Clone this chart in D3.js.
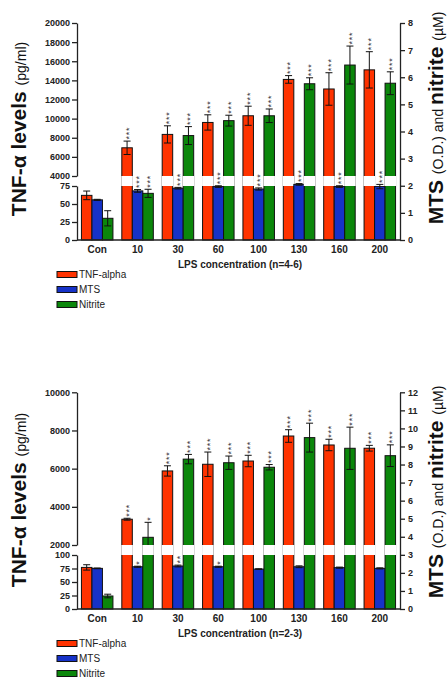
<!DOCTYPE html>
<html><head><meta charset="utf-8">
<script src="https://cdn.jsdelivr.net/npm/d3@7"></script>
<style>
html,body{margin:0;padding:0;background:#fff;}
text{font-family:Arial,"Liberation Sans",sans-serif;}
</style></head>
<body><svg id="chart" width="448" height="685"></svg>
<script>
// ---------- data ----------
const categories = ["Con","10","30","60","100","130","160","200"];
const seriesNames = ["TNF-alpha","MTS","Nitrite"];

// Panel 1 (n=4-6)
const p1_tnf        = [62, 6950, 8350, 9600, 10300, 14100, 13100, 15100];
const p1_tnfErr     = [6, 700, 900, 800, 1000, 400, 1700, 1900];
const p1_mts        = [1.48, 1.81, 1.91, 1.97, 1.88, 2.05, 1.97, 1.97];
const p1_mtsErr     = [0.02, 0.05, 0.03, 0.03, 0.04, 0.03, 0.03, 0.08];
const p1_nitrite    = [0.80, 1.72, 3.85, 4.40, 4.58, 5.76, 6.45, 5.78];
const p1_nitriteErr = [0.28, 0.15, 0.33, 0.20, 0.25, 0.22, 0.70, 0.42];
const p1_tnfSig     = ["","***","***","***","***","***","***","***"];
const p1_mtsSig     = ["","***","***","***","***","***","***","***"];
const p1_nitSig     = ["","***","***","***","***","***","***","***"];
const p1_lowTicks   = [0, 25, 50, 75];
const p1_upTicks    = [4000, 6000, 8000, 10000, 12000, 14000, 16000, 18000, 20000];
const p1_rightTicks = [0, 1, 2, 3, 4, 5, 6, 7, 8];

// Panel 2 (n=2-3)
const p2_tnf        = [77, 3350, 5880, 6230, 6400, 7710, 7240, 7070];
const p2_tnfErr     = [5, 50, 270, 640, 300, 330, 300, 150];
const p2_mts        = [2.25, 2.34, 2.38, 2.34, 2.21, 2.34, 2.29, 2.25];
const p2_mtsErr     = [0.02, 0.03, 0.05, 0.03, 0.02, 0.05, 0.03, 0.03];
const p2_nitrite    = [0.72, 3.97, 8.30, 8.10, 7.85, 9.49, 8.90, 8.49];
const p2_nitriteErr = [0.10, 0.83, 0.26, 0.37, 0.15, 0.80, 1.17, 0.60];
const p2_tnfSig     = ["","***","***","***","***","***","***","***"];
const p2_mtsSig     = ["","*","**","*","","","",""];
const p2_nitSig     = ["","*","***","***","***","***","***","***"];
const p2_lowTicks   = [0, 25, 50, 75, 100];
const p2_upTicks    = [2000, 4000, 6000, 8000, 10000];
const p2_rightTicks = [0,1,2,3,4,5,6,7,8,9,10,11,12];

const colors = {"TNF-alpha":"#ff3300","MTS":"#1632c8","Nitrite":"#0b870b"};

// ---------- drawing ----------
const svg = d3.select("#chart");
const X0 = 77, X1 = 400;
const fmt = d3.format("d");

function drawPanel(o){
  const g = svg.append("g");
  const x = d3.scaleBand().domain(categories).range([X0, X1]).padding(0);
  const low = d3.scaleLinear().domain([o.lowTicks[0], o.lowTicks[o.lowTicks.length-1]]).range([o.base, o.gapBottom]);
  const up  = d3.scaleLinear().domain([o.upTicks[0], o.upTicks[o.upTicks.length-1]]).range([o.gapTop, o.top]);
  const r   = d3.scaleLinear().domain([0, o.rightTicks[o.rightTicks.length-1]]).range([o.base, o.top]);
  const lowMax = low.domain()[1];
  const leftY = v => v <= lowMax ? low(v) : up(v);
  const bw = 10.5;

  const series = [
    {name:"TNF-alpha", vals:o.tnf, errs:o.tnfErr, sig:o.tnfSig, y:leftY},
    {name:"MTS", vals:o.mts, errs:o.mtsErr, sig:o.mtsSig, y:r},
    {name:"Nitrite", vals:o.nit, errs:o.nitErr, sig:o.nitSig, y:r}
  ];

  series.forEach((s, si) => {
    const bx = c => x(c) + x.bandwidth()/2 - 1.5*bw + si*bw;
    const data = categories.map((c,i)=>({c, v:s.vals[i], e:s.errs[i], sig:s.sig[i]}));
    g.selectAll(null).data(data).enter().append("rect")
      .attr("x", d=>bx(d.c)).attr("width", bw)
      .attr("y", d=>s.y(d.v)).attr("height", d=>o.base - s.y(d.v))
      .attr("fill", colors[s.name]).attr("stroke", "#111").attr("stroke-width", 1);
    const eg = g.selectAll(null).data(data).enter().append("g").attr("stroke","#111").attr("stroke-width",1);
    eg.append("line").attr("x1",d=>bx(d.c)+bw/2).attr("x2",d=>bx(d.c)+bw/2)
      .attr("y1",d=>s.y(d.v+d.e)).attr("y2",d=>s.y(d.v-d.e));
    eg.append("line").attr("x1",d=>bx(d.c)+bw/2-3.5).attr("x2",d=>bx(d.c)+bw/2+3.5)
      .attr("y1",d=>s.y(d.v+d.e)).attr("y2",d=>s.y(d.v+d.e));
    eg.append("line").attr("x1",d=>bx(d.c)+bw/2-3.5).attr("x2",d=>bx(d.c)+bw/2+3.5)
      .attr("y1",d=>s.y(d.v-d.e)).attr("y2",d=>s.y(d.v-d.e));
    g.selectAll(null).data(data.filter(d=>s.y(d.v) < o.gapTop)).enter().append("rect")
      .attr("x", d=>bx(d.c)-0.5).attr("width", bw+1)
      .attr("y", o.gapTop).attr("height", o.gapBottom - o.gapTop)
      .attr("fill","#fff");
    // significance stars: one vertical text per stack
    g.selectAll(null).data(data.filter(d=>d.sig)).enter().append("text")
      .attr("transform", d=>`translate(${bx(d.c)+bw/2+4.8},${s.y(d.v+d.e)-1.5}) rotate(-90)`)
      .attr("font-size",9).attr("letter-spacing",0.8).attr("fill","#333")
      .text(d=>d.sig);
  });

  const axStyle = sel => {
    sel.selectAll("path,line").attr("stroke","#222").attr("stroke-width",1.3);
    sel.selectAll("text").attr("font-size",9).attr("font-weight","bold").attr("fill","#222")
       .attr("font-family","Arial, 'Liberation Sans', sans-serif");
  };
  g.append("g").attr("transform",`translate(${X0},0)`)
    .call(d3.axisLeft(low).tickValues(o.lowTicks).tickFormat(fmt).tickSize(5).tickSizeOuter(0).tickPadding(2)).call(axStyle);
  g.append("g").attr("transform",`translate(${X0},0)`)
    .call(d3.axisLeft(up).tickValues(o.upTicks).tickFormat(fmt).tickSize(5).tickSizeOuter(0).tickPadding(2)).call(axStyle);
  g.append("g").attr("transform",`translate(${X1},0)`)
    .call(d3.axisRight(r).tickValues(o.rightTicks).tickFormat(fmt).tickSize(5).tickSizeOuter(0).tickPadding(3)).call(axStyle);
  const xa = g.append("g").attr("transform",`translate(0,${o.base})`)
    .call(d3.axisBottom(x).tickSize(0).tickSizeOuter(0).tickPadding(6));
  xa.selectAll("path").attr("stroke","#222").attr("stroke-width",1.3);
  xa.selectAll("text").attr("font-size",10).attr("font-weight","bold").attr("fill","#222");
  xa.select(".domain").attr("d", `M${X0},0H${X1}`);

  g.append("text").attr("x", 240).attr("y", o.base + 28).attr("text-anchor","middle")
    .attr("font-size",10).attr("font-weight","bold").attr("fill","#222").text(o.xTitle);

  const lt = g.append("text").attr("transform",`translate(26,${o.leftTitleY}) rotate(-90)`)
    .attr("text-anchor","middle").attr("fill","#111");
  lt.append("tspan").attr("font-size",21).attr("font-weight","bold").text("TNF-α levels ");
  lt.append("tspan").attr("font-size",14).text("(pg/ml)");

  const rt = g.append("text").attr("transform",`translate(443,${o.rightTitleY}) rotate(-90)`)
    .attr("text-anchor","middle").attr("fill","#111");
  rt.append("tspan").attr("font-size",21).attr("font-weight","bold").text("MTS ");
  rt.append("tspan").attr("font-size",14).text("(O.D.) and ");
  rt.append("tspan").attr("font-size",21).attr("font-weight","bold").text("nitrite ");
  rt.append("tspan").attr("font-size",14).text("(µM)");

  const lg = g.append("g");
  seriesNames.forEach((n,i)=>{
    const yy = o.legendY + i*15;
    lg.append("rect").attr("x",57).attr("y",yy-3).attr("width",20).attr("height",6)
      .attr("fill",colors[n]).attr("stroke","#111").attr("stroke-width",1);
    lg.append("text").attr("x",79).attr("y",yy+3.5).attr("font-size",10).attr("fill","#222").text(n);
  });
}

drawPanel({
  base:240, top:23, gapTop:176, gapBottom:186,
  lowTicks:p1_lowTicks, upTicks:p1_upTicks, rightTicks:p1_rightTicks,
  tnf:p1_tnf, tnfErr:p1_tnfErr, mts:p1_mts, mtsErr:p1_mtsErr, nit:p1_nitrite, nitErr:p1_nitriteErr,
  tnfSig:p1_tnfSig, mtsSig:p1_mtsSig, nitSig:p1_nitSig,
  xTitle:"LPS concentration (n=4-6)", leftTitleY:129, rightTitleY:118, legendY:274.5
});
drawPanel({
  base:609, top:392.3, gapTop:545, gapBottom:555,
  lowTicks:p2_lowTicks, upTicks:p2_upTicks, rightTicks:p2_rightTicks,
  tnf:p2_tnf, tnfErr:p2_tnfErr, mts:p2_mts, mtsErr:p2_mtsErr, nit:p2_nitrite, nitErr:p2_nitriteErr,
  tnfSig:p2_tnfSig, mtsSig:p2_mtsSig, nitSig:p2_nitSig,
  xTitle:"LPS concentration (n=2-3)", leftTitleY:500, rightTitleY:492, legendY:643.5
});
</script></body></html>
